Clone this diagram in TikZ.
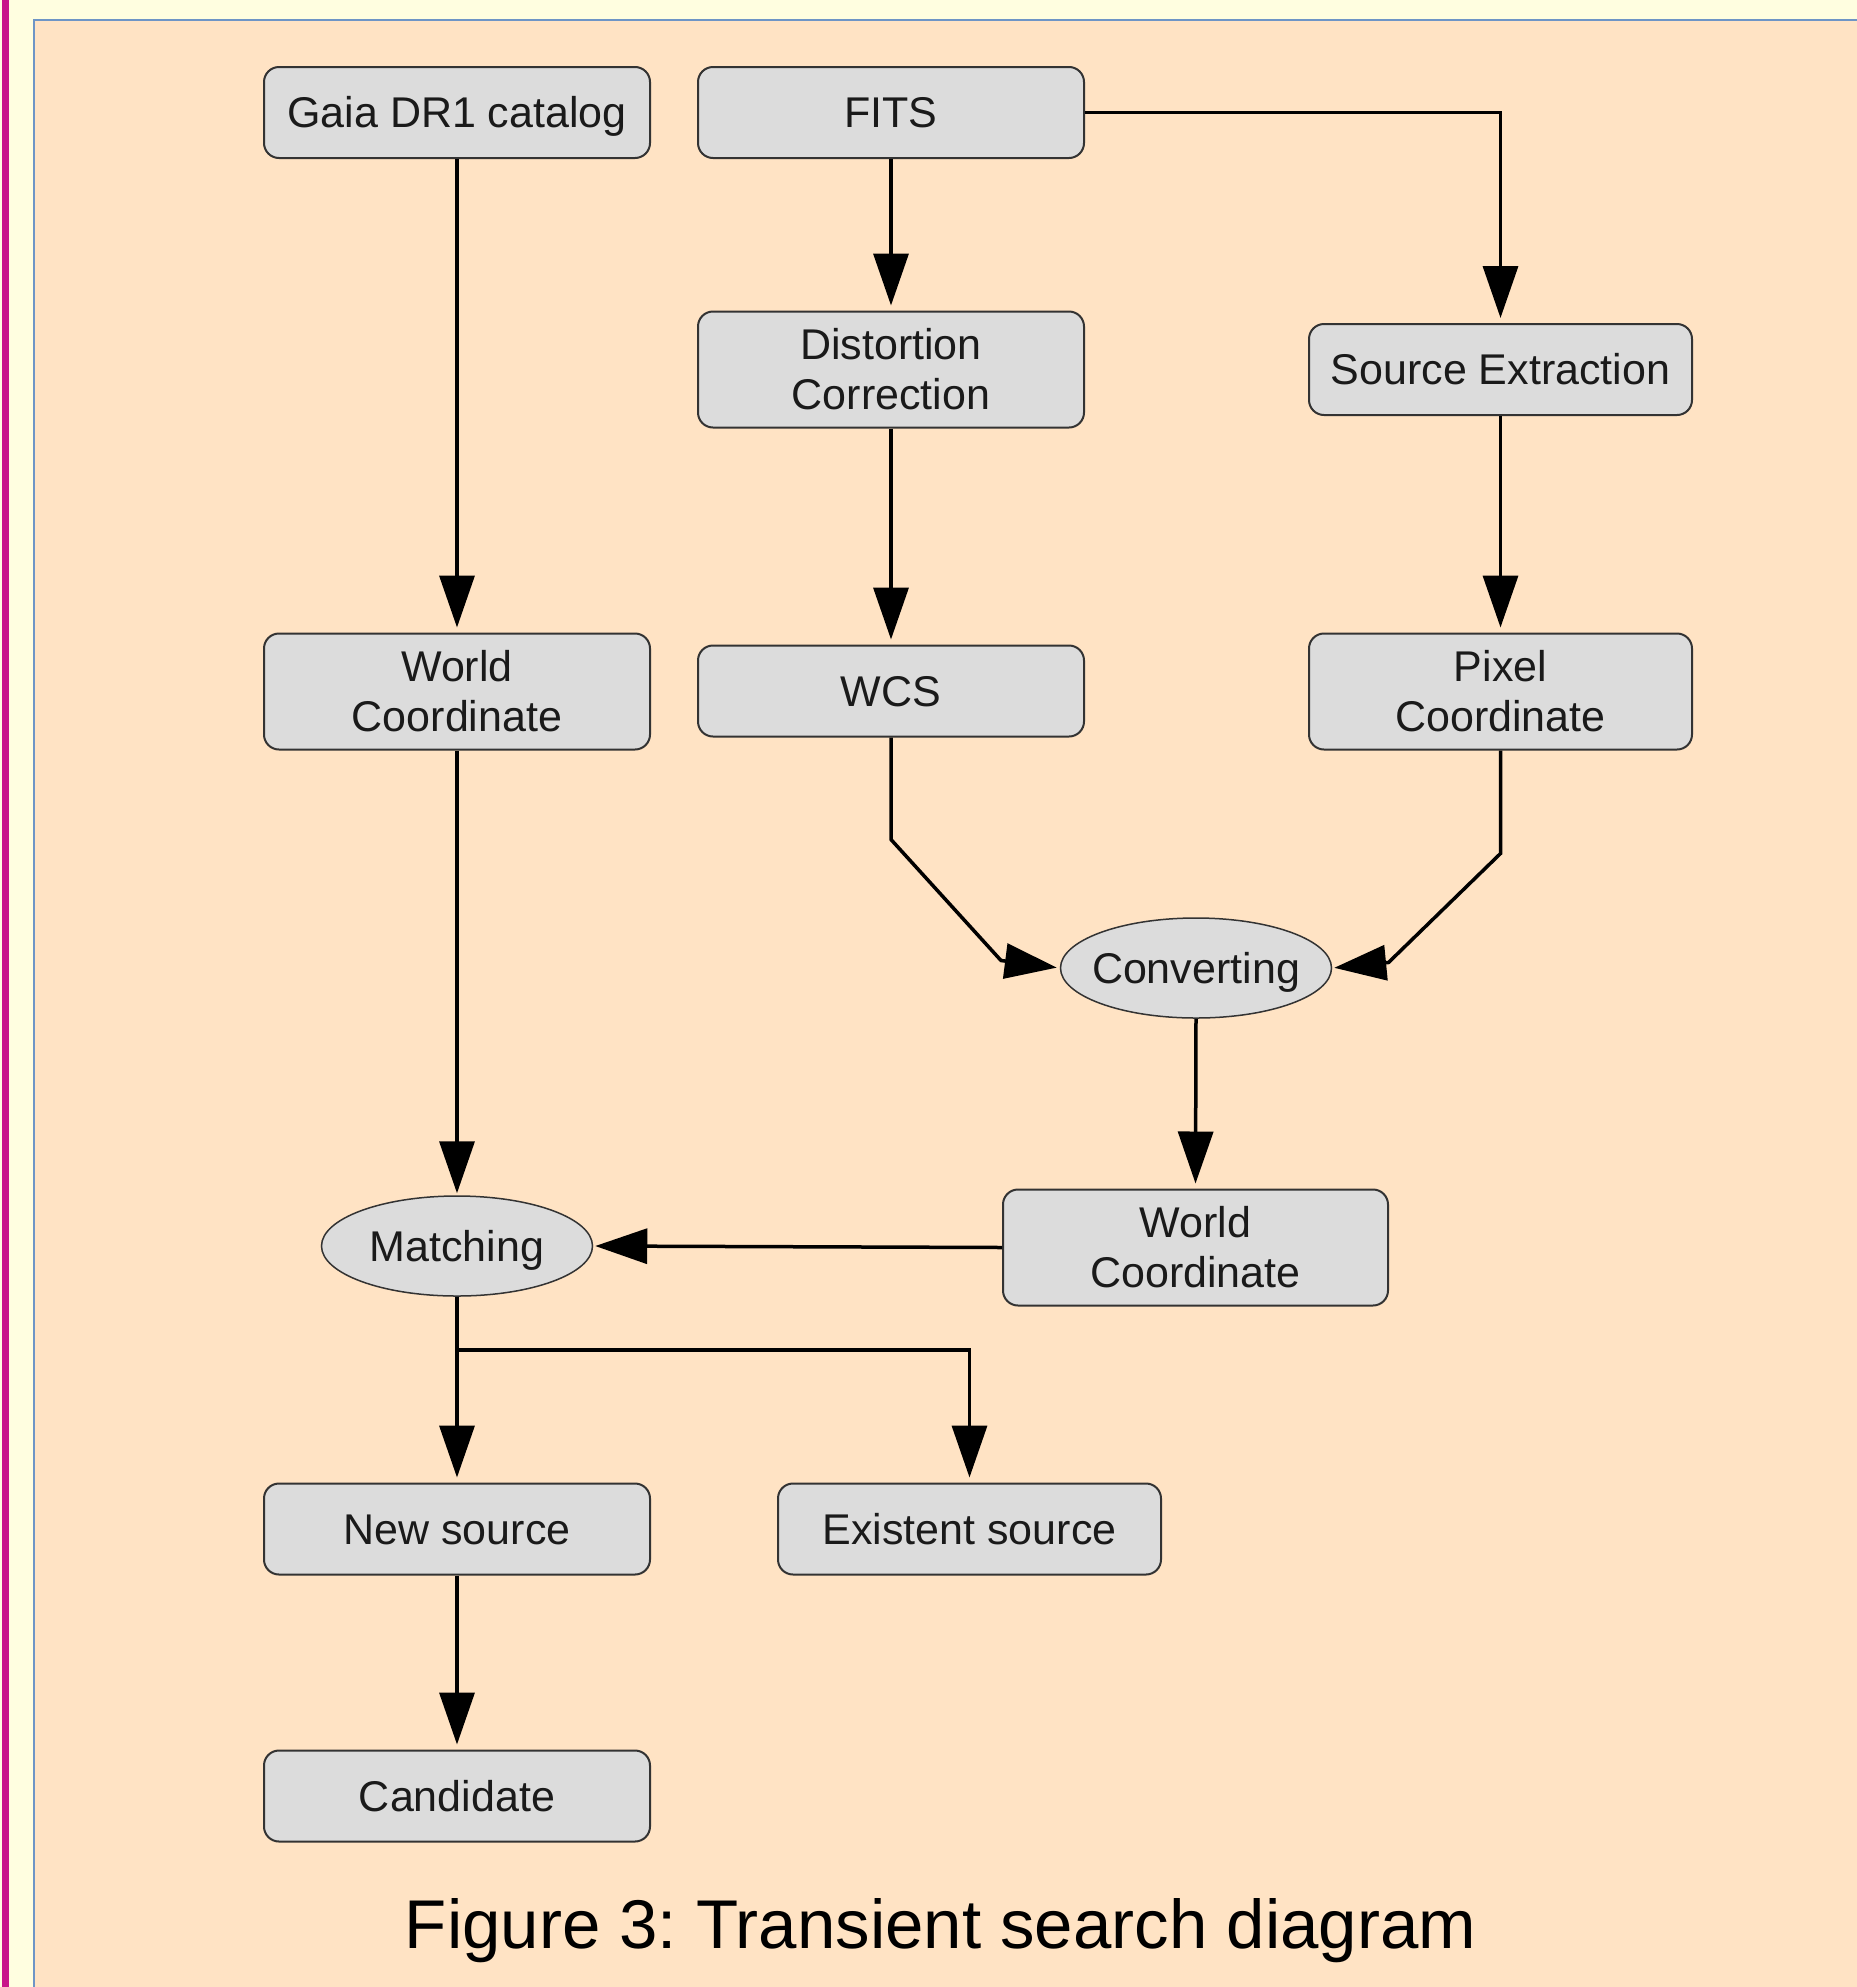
\documentclass[tikz,border=0pt]{standalone}
\usepackage{fontspec}
\setmainfont{Liberation Sans}
\usetikzlibrary{arrows.meta,shapes.geometric}
\frenchspacing

\definecolor{pagebg}{HTML}{FFFEE0}
\definecolor{sidebar}{HTML}{C8168A}
\definecolor{panelbg}{HTML}{FFE3C4}
\definecolor{panelline}{HTML}{6E95C6}
\definecolor{boxfill}{HTML}{DCDCDC}
\definecolor{boxline}{HTML}{333333}
\definecolor{txt}{HTML}{1A1A1A}

\begin{document}
\begin{tikzpicture}[
            x=1pt, y=-1pt,
            box/.style = {draw=boxline, line width=2pt, fill=boxfill, rounded corners=15pt, minimum width=386pt, minimum height=91pt, inner sep=0pt, align=center, text=txt, font=\fontsize{43}{50}\selectfont},
            onebox/.style = {box, text height=38.7pt, text depth=7.9pt},
            twobox/.style = {box, minimum height=116pt},
            proc/.style = {ellipse, draw=boxline, line width=1.5pt, fill=boxfill, minimum width=271pt, minimum height=100pt, inner xsep=-40pt, inner ysep=0pt, text height=38.7pt, text depth=7.9pt, text=txt, font=\fontsize{43}{50}\selectfont},
            link/.style = {line width=3.5pt, -{Triangle[length=52pt, width=35pt]}, shorten >=5pt}
          ]
          \useasboundingbox (0,0) rectangle (1857,1987);
          % page and panel
          \fill[pagebg] (0,0) rectangle (1857,1987);
          \fill[sidebar] (1.5,0) rectangle (9,1987);
          \filldraw[fill=panelbg, draw=panelline, line width=1.5pt] (34,20) rectangle (1880,2010);

          \node[onebox] (gaia) at (457,112.5) {Gaia DR1 catalog};
          \node[onebox] (fits) at (891,112.5) {FITS};
          \node[twobox] (distort) at (891,369.5) {Distortion\\Correction};
          \node[onebox, minimum width=383pt] (srcext) at (1500.5,369.5) {Source Extraction};
          \node[twobox] (worldA) at (457,691.5) {World\\Coordinate};
          \node[onebox] (wcs) at (891,691) {WCS};
          \node[twobox, minimum width=383pt] (pixel) at (1500.5,691.5) {Pixel\\Coordinate};
          \node[proc] (convert) at (1196,968) {Converting};
          \node[twobox, minimum width=385pt] (worldB) at (1195.5,1247.5) {World\\Coordinate};
          \node[proc] (match) at (457,1246) {Matching};
          \node[onebox] (newsrc) at (457,1529) {New source};
          \node[onebox, minimum width=383pt] (oldsrc) at (969.5,1529) {Existent source};
          \node[onebox] (cand) at (457,1796) {Candidate};
          \node[anchor=base, font=\fontsize{69}{80}\selectfont] (caption) at (940.5,1948) {Figure 3: Transient search diagram};

          % connectors
          \draw[link] (gaia.south) -- (worldA.north);
          \draw[link] (fits.south) -- (distort.north);
          \draw[link] (fits.east) -| (srcext.north);
          \draw[link] (distort.south) -- (wcs.north);
          \draw[link] (srcext.south) -- (pixel.north);
          \draw[link, shorten >=2pt] (worldA.south) -- (match.north);
          \draw[link, shorten >=3pt] (wcs.south) -- ++(0,102) -- ++(110,121) -- (convert.west);
          \draw[link, shorten >=2pt] (pixel.south) -- ++(0,103) -- ++(-112,109) -- (convert.east);
          \draw[link] (convert.south) -- (worldB.north);
          \draw[link, shorten >=2pt] (worldB.west) -- (match.east);
          \draw[link] (match.south) -- (newsrc.north);
          \draw[link] (match.south) -- ++(0,53) -| (oldsrc.north);
          \draw[link] (newsrc.south) -- (cand.north);
        \end{tikzpicture}
\end{document}
